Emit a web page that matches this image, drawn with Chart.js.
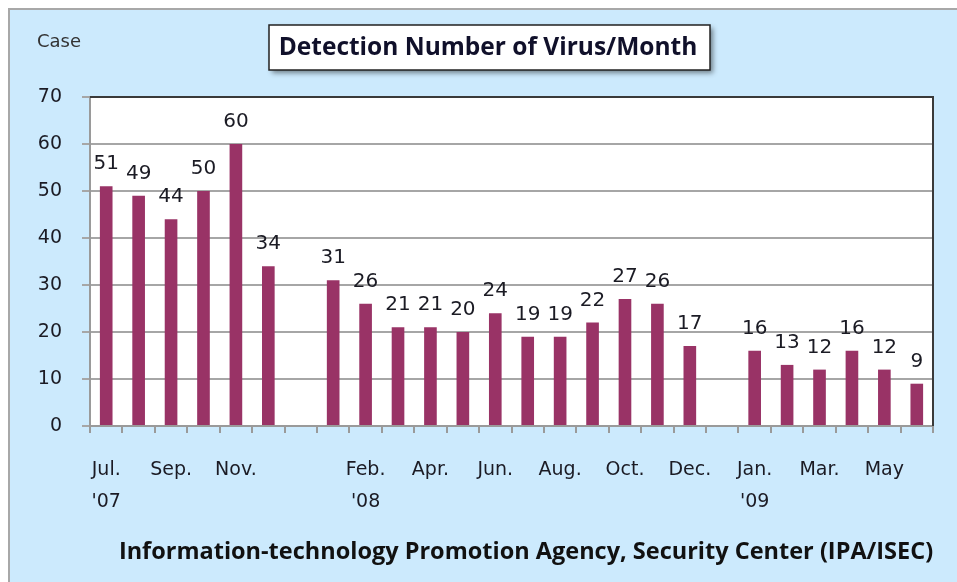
<!DOCTYPE html>
<html>
<head>
<meta charset="utf-8">
<script src="https://cdn.jsdelivr.net/npm/chart.js@4.4.0/dist/chart.umd.min.js"></script>
<style>
    html, body { margin: 0; padding: 0; background: #ffffff; }
    #wrap { width: 957px; height: 582px; }
</style>
</head>
<body>
<div id="wrap"><canvas id="virusChart" width="957" height="582"></canvas></div>
<script>
// months Jul '07 .. Jun '09, empty slot between the years as in the original
const months = ['Jul 07', 'Aug 07', 'Sep 07', 'Oct 07', 'Nov 07', 'Dec 07', '',
    'Jan 08', 'Feb 08', 'Mar 08', 'Apr 08', 'May 08', 'Jun 08', 'Jul 08', 'Aug 08',
    'Sep 08', 'Oct 08', 'Nov 08', 'Dec 08', '',
    'Jan 09', 'Feb 09', 'Mar 09', 'Apr 09', 'May 09', 'Jun 09'];
const detections = [51, 49, 44, 50, 60, 34, null,
    31, 26, 21, 21, 20, 24, 19, 19, 22, 27, 26, 17, null,
    16, 13, 12, 16, 12, 9];
const tickLabels = [['Jul.', "'07"], '', 'Sep.', '', 'Nov.', '', '',
    '', ['Feb.', "'08"], '', 'Apr.', '', 'Jun.', '', 'Aug.', '', 'Oct.', '', 'Dec.', '',
    ['Jan.', "'09"], '', 'Mar.', '', 'May', ''];
const yTicks = [0, 10, 20, 30, 40, 50, 60, 70];

const chartTitle = 'Detection Number of Virus/Month';
const unitLabel = 'Case';
const sourceText = 'Information-technology Promotion Agency, Security Center (IPA/ISEC)';

const BLUE = '#cceafd';
const BAR = '#993366';
const TEXT = '#1b1b24';
const FONT = 'DejaVu Sans';

// фон, рамки, заголовок и подписи
const decorPlugin = {
    id: 'decor',
    beforeDraw(chart) {
        const { ctx, width, height, chartArea: a } = chart;
        ctx.save();
        ctx.fillStyle = '#ffffff';
        ctx.fillRect(0, 0, width, height);
        ctx.fillStyle = BLUE;
        ctx.fillRect(10, 10, width - 10, height - 10);
        ctx.strokeStyle = '#a8a8a8';
        ctx.lineWidth = 2;
        ctx.beginPath();
        ctx.moveTo(9, height);
        ctx.lineTo(9, 9);
        ctx.lineTo(width, 9);
        ctx.stroke();
        ctx.fillStyle = '#ffffff';
        ctx.fillRect(a.left, a.top, a.right - a.left, a.bottom - a.top);
        ctx.restore();
    },
    afterDraw(chart) {
        const { ctx, chartArea: a } = chart;
        ctx.save();
        // plot border top/right
        ctx.strokeStyle = '#3a3a3a';
        ctx.lineWidth = 2;
        ctx.beginPath();
        ctx.moveTo(a.left, a.top);
        ctx.lineTo(a.right, a.top);
        ctx.lineTo(a.right, a.bottom);
        ctx.stroke();

        // title box with shadow
        ctx.save();
        ctx.shadowColor = 'rgba(0,0,0,0.45)';
        ctx.shadowBlur = 5;
        ctx.shadowOffsetX = 3;
        ctx.shadowOffsetY = 3;
        ctx.fillStyle = '#ffffff';
        ctx.fillRect(269, 25, 441, 45);
        ctx.restore();
        ctx.strokeStyle = '#222222';
        ctx.lineWidth = 1.5;
        ctx.strokeRect(269, 25, 441, 45);
        ctx.fillStyle = '#10102a';
        ctx.font = 'bold 24.5px "Open Sans"';
        ctx.textAlign = 'center';
        ctx.textBaseline = 'middle';
        ctx.fillText(chartTitle, 488, 48);

        ctx.fillStyle = '#333333';
        ctx.font = '18px ' + FONT;
        ctx.textAlign = 'left';
        ctx.fillText(unitLabel, 37, 42);

        ctx.fillStyle = '#111111';
        ctx.font = 'bold 23.5px "Open Sans"';
        ctx.textAlign = 'center';
        ctx.fillText(sourceText, 526, 552);
        ctx.restore();
    }
};

// значения над столбцами
const valueLabels = {
    id: 'valueLabels',
    afterDatasetsDraw(chart) {
        const { ctx } = chart;
        const meta = chart.getDatasetMeta(0);
        ctx.save();
        ctx.fillStyle = TEXT;
        ctx.font = '20px ' + FONT;
        ctx.textAlign = 'center';
        ctx.textBaseline = 'alphabetic';
        meta.data.forEach((bar, i) => {
            const v = detections[i];
            if (v === null) return;
            ctx.fillText(String(v), bar.x, bar.y - 17);
        });
        ctx.restore();
    }
};

new Chart(document.getElementById('virusChart').getContext('2d'), {
    type: 'bar',
    data: {
        labels: months,
        datasets: [{
            label: unitLabel,
            data: detections,
            backgroundColor: BAR,
            borderWidth: 0,
            categoryPercentage: 1,
            barPercentage: 0.39
        }]
    },
    options: {
        responsive: false,
        animation: false,
        layout: { padding: { top: 97, right: 24, left: 0, bottom: 0 } },
        plugins: {
            legend: { display: false },
            title: { display: false },
            tooltip: { enabled: false }
        },
        scales: {
            x: {
                afterFit(scale) { scale.height = 156; },
                grid: {
                    offset: true,
                    drawOnChartArea: false,
                    drawTicks: true,
                    tickLength: 7,
                    color: '#9a9a9a',
                    lineWidth: 2
                },
                border: { color: '#9a9a9a', width: 2 },
                ticks: {
                    autoSkip: false,
                    maxRotation: 0,
                    padding: 21,
                    color: TEXT,
                    font: { family: FONT, size: 19, lineHeight: 1.68 },
                    callback: (val, i) => tickLabels[i]
                }
            },
            y: {
                min: 0,
                max: 70,
                afterFit(scale) { scale.width = 90; },
                afterBuildTicks(scale) { scale.ticks = yTicks.map(v => ({ value: v })); },
                grid: {
                    color: '#a6a6a6',
                    lineWidth: 2,
                    tickLength: 8
                },
                border: { color: '#9a9a9a', width: 2 },
                ticks: {
                    padding: 20,
                    color: TEXT,
                    font: { family: FONT, size: 19 }
                }
            }
        }
    },
    plugins: [decorPlugin, valueLabels]
});
</script>
</body>
</html>
